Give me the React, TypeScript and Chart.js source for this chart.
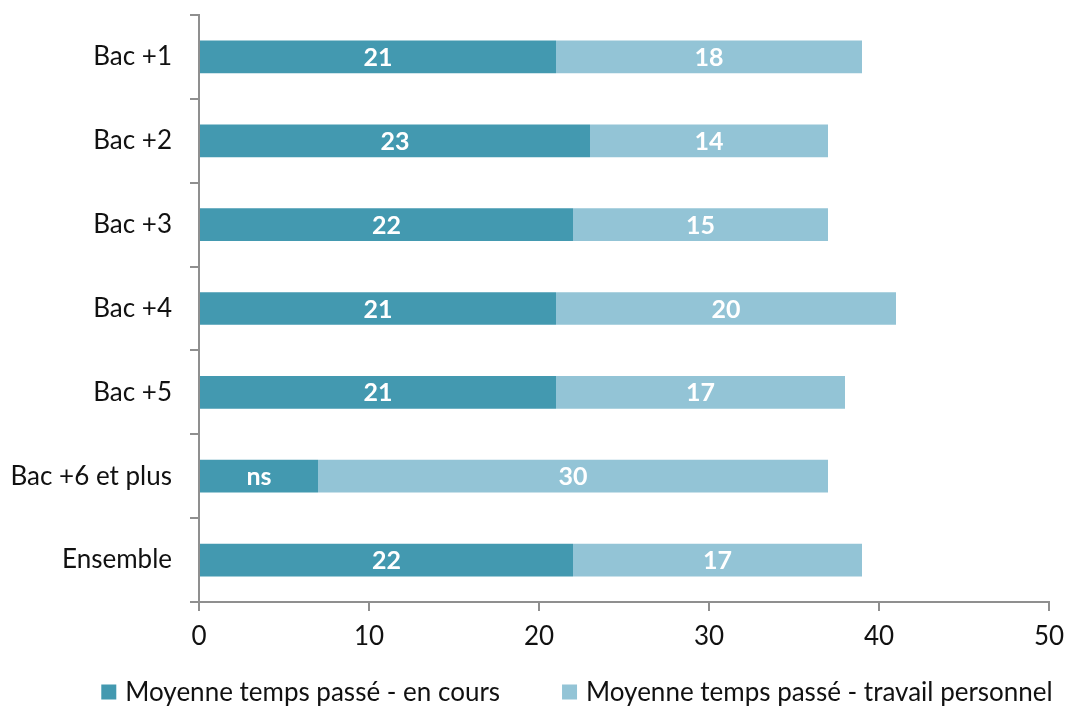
import React, { useEffect, useRef } from "react";
import { Chart, registerables } from "chart.js";

Chart.register(...registerables);

const categories = ["Bac +1", "Bac +2", "Bac +3", "Bac +4", "Bac +5", "Bac +6 et plus", "Ensemble"];
const enCours = [21, 23, 22, 21, 21, 7, 22];
const enCoursLabels = ["21", "23", "22", "21", "21", "ns", "22"];
const travailPerso = [18, 14, 15, 20, 17, 30, 17];
const travailPersoLabels = ["18", "14", "15", "20", "17", "30", "17"];
const seriesNames = ["Moyenne temps passé - en cours", "Moyenne temps passé - travail personnel"];
const xTicks = [0, 10, 20, 30, 40, 50];

const DARK = "#4399B0";
const LIGHT = "#93C4D6";
const FONT = "Lato, 'Noto Sans', sans-serif";
const AXIS = "#8f8f8f";

export default function App() {
  const ref = useRef<HTMLCanvasElement | null>(null);
  useEffect(() => {
    if (!ref.current) return;
    const labelSets = [enCoursLabels, travailPersoLabels];
    const valueLabels = {
      id: "valueLabels",
      afterDatasetsDraw(chart: any) {
        const ctx = chart.ctx;
        ctx.save();
        ctx.fillStyle = "#ffffff";
        ctx.font = `bold 25px ${FONT}`;
        ctx.textAlign = "center";
        ctx.textBaseline = "middle";
        chart.data.datasets.forEach((ds: any, di: number) => {
          const meta = chart.getDatasetMeta(di);
          meta.data.forEach((bar: any, i: number) => {
            const cx = (bar.x + bar.base) / 2;
            ctx.fillText(labelSets[di][i], cx, bar.y + 1);
          });
        });
        ctx.restore();
      },
    };
    const customLegend = {
      id: "customLegend",
      afterDraw(chart: any) {
        const ctx = chart.ctx;
        ctx.save();
        ctx.font = `26px ${FONT}`;
        ctx.textBaseline = "middle";
        const box = 15;
        const gap = 9;
        const between = 62;
        const w1 = ctx.measureText(seriesNames[0]).width;
        const w2 = ctx.measureText(seriesNames[1]).width;
        const total = box + gap + w1 + between + box + gap + w2;
        let x = 577 - total / 2;
        const y = 692;
        const colors = [DARK, LIGHT];
        [w1, w2].forEach((w, i) => {
          ctx.fillStyle = colors[i];
          ctx.fillRect(x, y - box / 2, box, box);
          ctx.fillStyle = "#111111";
          ctx.fillText(seriesNames[i], x + box + gap, y + 1);
          x += box + gap + w + between;
        });
        ctx.restore();
      },
    };
    const chart = new Chart(ref.current, {
      type: "bar",
      data: {
        labels: categories,
        datasets: [
          { label: seriesNames[0], data: enCours, backgroundColor: DARK, categoryPercentage: 1, barPercentage: 0.39 },
          { label: seriesNames[1], data: travailPerso, backgroundColor: LIGHT, categoryPercentage: 1, barPercentage: 0.39 },
        ],
      },
      options: {
        indexAxis: "y",
        animation: false,
        responsive: true,
        maintainAspectRatio: false,
        layout: { padding: { top: 15, right: 17, left: 0, bottom: 0 } },
        plugins: { legend: { display: false }, tooltip: { enabled: false } },
        scales: {
          x: {
            stacked: true,
            min: 0,
            max: 50,
            afterBuildTicks: (scale: any) => {
              scale.ticks = xTicks.map((v) => ({ value: v }));
            },
            grid: { drawOnChartArea: false, drawTicks: true, tickLength: 9, color: AXIS, lineWidth: 2 },
            border: { color: AXIS, width: 2 },
            ticks: { color: "#111111", font: { family: FONT, size: 26 }, padding: 10 },
            afterFit: (scale: any) => {
              scale.height = 104;
              scale.paddingLeft = 0;
              scale.paddingRight = 0;
            },
          },
          y: {
            stacked: true,
            grid: { drawOnChartArea: false, drawTicks: true, tickLength: 9, color: AXIS, lineWidth: 2, offset: true },
            border: { color: AXIS, width: 2 },
            ticks: { color: "#111111", font: { family: FONT, size: 26 }, padding: 18 },
            afterFit: (scale: any) => {
              scale.width = 199;
              scale.paddingTop = 0;
              scale.paddingBottom = 0;
            },
          },
        },
      },
      plugins: [valueLabels, customLegend],
    });
    return () => chart.destroy();
  }, []);
  return (
    <div style={{ position: "absolute", left: 0, top: 0, width: 1066, height: 706 }}>
      <canvas ref={ref} />
    </div>
  );
}
